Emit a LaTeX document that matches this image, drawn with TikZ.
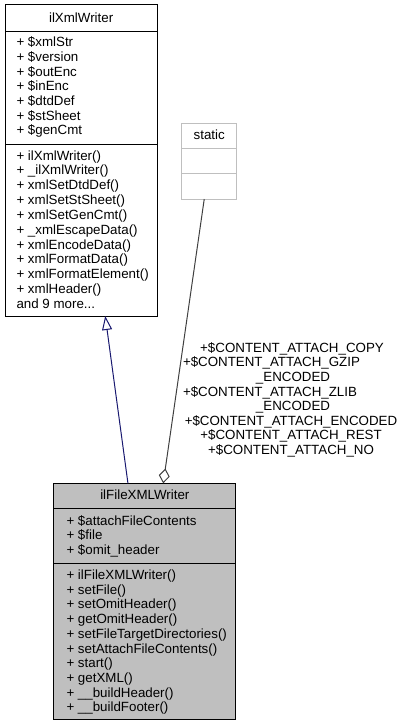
\documentclass[tikz,border=0pt]{standalone}
\usepackage{fontspec}
\setmainfont{Liberation Sans}
\usetikzlibrary{arrows.meta,calc}
\definecolor{edgegrey}{HTML}{404040}
\definecolor{boxgrey}{HTML}{BFBFBF}
\definecolor{inhblue}{HTML}{191970}
\newcommand{\andmore}{and 9 more...}
\tikzset{
  classbox/.style={draw=black,line width=0.75pt,rectangle},
  member/.style={anchor=base west},
  classtitle/.style={anchor=base},
  edgelabel/.style={anchor=base},
  inherit/.style={draw=inhblue,line width=0.75pt,-{Triangle[open,length=10.5pt,width=7.5pt]}},
  aggregate/.style={draw=edgegrey,line width=0.75pt,-{Diamond[open,length=11.25pt,width=8.25pt]}}
}
\begin{document}
\begin{tikzpicture}[y=0.75pt, x=0.75pt, yscale=-1.000000, xscale=1.000000, inner sep=0pt, outer sep=0pt, font=\fontsize{10pt}{12pt}\selectfont]
\useasboundingbox (0,0) rectangle (405,727);
\node[classbox, minimum width=114.2pt, minimum height=233.25pt] (xmlwriter) at (81.15,160.5) {};
\node[classbox, draw=boxgrey, minimum width=41.25pt, minimum height=56.8pt] (static) at (209.2,161.15) {};
\node[classbox, fill=boxgrey, minimum width=136.3pt, minimum height=177.5pt] (filewriter) at (144.85,601.65) {};
\path[draw=black,line width=0.75pt] (5,32) -- (157.3,32);
\path[draw=black,line width=0.75pt] (5,145) -- (157.3,145);
\path[draw=boxgrey,line width=0.75pt] (181.6,149) -- (236.8,149);
\path[draw=boxgrey,line width=0.75pt] (181.6,174) -- (236.8,174);
\path[draw=black,line width=0.75pt] (54,508) -- (235.7,508);
\path[draw=black,line width=0.75pt] (54,563) -- (235.7,563);
\node[classtitle] (xmlwritertitle) at (81.15,23) {ilXmlWriter};
\node[classtitle] (statictitle) at (209.2,140) {static};
\node[classtitle] (filewritertitle) at (144.85,499.5) {ilFileXMLWriter};
\foreach \txt [count=\i] in {+ \$xmlStr, + \$version, + \$outEnc, + \$inEnc, + \$dtdDef, + \$stSheet, + \$genCmt}
  \node[member] (xwattr\i) at (16.5,{46.8+14.7*(\i-1)}) {\txt};
\foreach \txt [count=\i] in {+ ilXmlWriter(), + \_ilXmlWriter(), + xmlSetDtdDef(), + xmlSetStSheet(), + xmlSetGenCmt(), + \_xmlEscapeData(), + xmlEncodeData(), + xmlFormatData(), + xmlFormatElement(), + xmlHeader(), \andmore}
  \node[member] (xwop\i) at (16.5,{160.2+14.8*(\i-1)}) {\txt};
\foreach \txt [count=\i] in {+ \$attachFileContents, + \$file, + \$omit\_header}
  \node[member] (fwattr\i) at (66.5,{525.2+14.7*(\i-1)}) {\txt};
\foreach \txt [count=\i] in {+ ilFileXMLWriter(), + setFile(), + setOmitHeader(), + getOmitHeader(), + setFileTargetDirectories(), + setAttachFileContents(), + start(), + getXML(), + \_\_buildHeader(), + \_\_buildFooter()}
  \node[member] (fwop\i) at (66.5,{579.5+14.7*(\i-1)}) {\txt};
\path[inherit] ($(filewriter.north west)!0.407!(filewriter.north east)$) -- ($(xmlwriter.south west)!0.658!(xmlwriter.south east)$);
\path[aggregate] ($(static.south west)!0.41!(static.south east)$) -- ($(filewriter.north west)!0.601!(filewriter.north east)$);
\node[edgelabel] (lbl1) at (292,352.2) {+\$CONTENT\_ATTACH\_COPY};
\node[edgelabel, anchor=base west] (lbl2) at (183,366.8) {+\$CONTENT\_ATTACH\_GZIP};
\node[edgelabel] (lbl3) at (293,381.4) {\_ENCODED};
\node[edgelabel, anchor=base west] (lbl4) at (183,396) {+\$CONTENT\_ATTACH\_ZLIB};
\node[edgelabel] (lbl5) at (293,410.6) {\_ENCODED};
\node[edgelabel] (lbl6) at (291,425.2) {+\$CONTENT\_ATTACH\_ENCODED};
\node[edgelabel] (lbl7) at (291,439.8) {+\$CONTENT\_ATTACH\_REST};
\node[edgelabel] (lbl8) at (291,454.4) {+\$CONTENT\_ATTACH\_NO};
\end{tikzpicture}
\end{document}
